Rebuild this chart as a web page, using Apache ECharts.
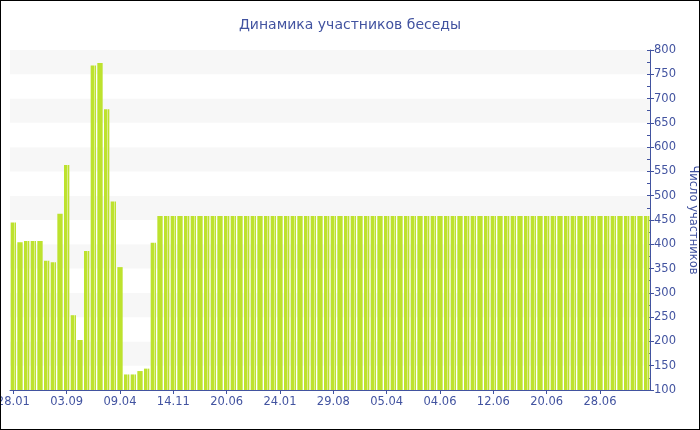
<!DOCTYPE html>
<html>
<head>
<meta charset="utf-8">
<script src="https://cdn.jsdelivr.net/npm/echarts@6/dist/echarts.min.js"></script>
<style>
html,body{margin:0;padding:0;background:#fff;}
#wrap{position:relative;width:700px;height:430px;}
#chart{width:700px;height:430px;}
#frame{position:absolute;left:0;top:0;width:700px;height:430px;box-sizing:border-box;border:1px solid #000;pointer-events:none;}
</style>
</head>
<body>
<div id="wrap"><div id="chart"></div><div id="frame"></div></div>
<script>
// Tick labels shown under the x axis (every 8th category)
const tickLabels = ['28.01','03.09','09.04','14.11','20.06','24.01','29.08','05.04','04.06','12.06','20.06','28.06'];
// Number of participants per period
const firstValues = [445,404,407,407,407,366,363,463,563,254,203,386,768,773,678,488,353,132,132,139,144,403];
const flatValues = [
458,458,458,458,458,458,458,458,458,458,458,458,458,458,458,458,458,458,458,458,
458,458,458,458,458,458,458,458,458,458,458,458,458,458,458,458,458,458,458,458,
458,458,458,458,458,458,458,458,458,458,458,458,458,458,458,458,458,458,458,458,
458,458,458,458,458,458,458,458,458,458,458,458,458,458];
const values = firstValues.concat(flatValues);
const categories = values.map((v, i) => (i % 8 === 0 ? tickLabels[i / 8] : 'p' + i));

const blue = '#4253a0';
const font = 'DejaVu Sans';
const chart = echarts.init(document.getElementById('chart'), null, {renderer: 'canvas'});
chart.setOption({
  animation: false,
  backgroundColor: '#fff',
  title: {
    text: 'Динамика участников беседы',
    left: 'center',
    top: 13,
    textStyle: {color: blue, fontFamily: font, fontSize: 14, fontWeight: 'normal'}
  },
  grid: {left: 10, right: 50, top: 50, bottom: 40, containLabel: false, outerBoundsMode: 'none'},
  xAxis: {
    type: 'category',
    data: categories,
    axisLine: {lineStyle: {color: blue, width: 1}},
    axisTick: {show: true, alignWithLabel: true, interval: 7, length: 4, lineStyle: {color: blue}},
    axisLabel: {
      interval: 7, color: blue, fontFamily: font, fontSize: 11.5, margin: 6,
      formatter: (v) => (v.charAt(0) === 'p' ? '' : v)
    },
    splitLine: {show: false}
  },
  yAxis: [{
    type: 'value',
    position: 'right',
    min: 100, max: 800, interval: 50,
    name: 'Число участников',
    nameLocation: 'middle',
    nameRotate: -90,
    nameGap: 34,
    nameTextStyle: {color: blue, fontFamily: font, fontSize: 11.5},
    axisLine: {show: true, lineStyle: {color: blue}},
    axisTick: {show: true, length: 4, lineStyle: {color: blue}},
    axisLabel: {color: blue, fontFamily: font, fontSize: 11.5, margin: 4},
    splitLine: {show: false},
    splitArea: {show: true, areaStyle: {color: ['#ffffff', '#f7f7f7']}}
  }, {
    type: 'value',
    position: 'right',
    min: 100, max: 800, interval: 25,
    axisLine: {show: false},
    axisTick: {show: true, inside: true, length: 3, lineStyle: {color: blue}},
    axisLabel: {show: false},
    splitLine: {show: false}
  }],
  series: [{
    type: 'bar',
    data: values,
    barCategoryGap: '20%',
    itemStyle: {
      color: new echarts.graphic.LinearGradient(0, 0, 1, 0, [
        {offset: 0, color: '#bde22e'},
        {offset: 0.62, color: '#bde22e'},
        {offset: 0.62, color: '#d9ef8a'},
        {offset: 0.78, color: '#d9ef8a'},
        {offset: 0.78, color: '#bde22e'},
        {offset: 1, color: '#bde22e'}
      ])
    }
  }]
});
</script>
</body>
</html>
